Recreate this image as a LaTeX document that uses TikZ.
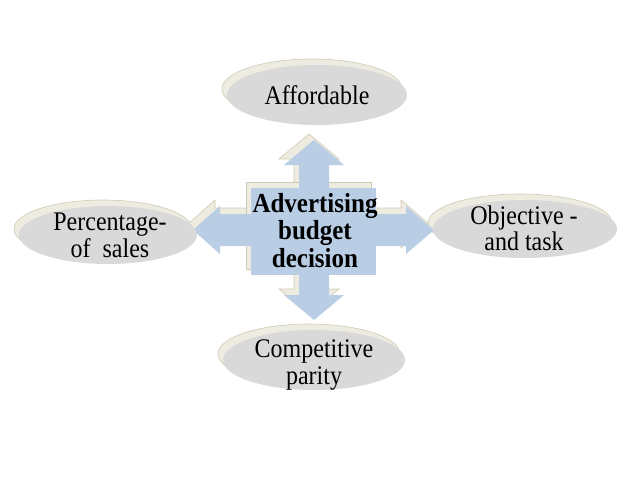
\documentclass[tikz,border=0pt]{standalone}
\usepackage{fontspec}
\setmainfont{Liberation Serif}
\usetikzlibrary{shapes.geometric}
\definecolor{bubble}{HTML}{D9D9D9}
\definecolor{arrowblue}{HTML}{B9CDE5}
\definecolor{cream}{HTML}{EEECE1}
\definecolor{creamedge}{HTML}{CFCAB4}
\tikzset{
  shade/.style={fill=cream, draw=creamedge, line width=0.6pt},
  blueshape/.style={fill=arrowblue, draw=none},
  label/.style={inner sep=0pt},
}
\newcommand{\tallbox}[2]{\scalebox{1}[1.12]{\fontsize{24}{#1}\selectfont\begin{tabular}{@{}c@{}}#2\end{tabular}}}
\newcommand{\quadarrow}{(0,-90) -- (30,-65) -- (15,-65) -- (15,-16) -- (92,-16) -- (92,-24) -- (120,0) -- (92,24) -- (92,16) -- (15,16) -- (15,65) -- (30,65) -- (0,90) -- (-30,65) -- (-15,65) -- (-15,16) -- (-94,16) -- (-94,24) -- (-121,0) -- (-94,-24) -- (-94,-16) -- (-15,-16) -- (-15,-65) -- (-30,-65) -- cycle}
\begin{document}
\begin{tikzpicture}[x=1pt,y=-1pt]
\useasboundingbox[fill=white] (0,0) rectangle (638,479);
% ellipse shadows
\foreach \cx/\cy/\rx/\ry in {317/95/90/30, 108/235/89/29, 525/229/92/29, 314/360/91/30}{
  \fill[shade] (\cx-5,\cy-6) ellipse [x radius=\rx, y radius=\ry];
}
% central quad arrow shadow
\begin{scope}[shift={(309,224)}]
  \filldraw[shade] \quadarrow;
  \filldraw[shade] (-63,-42) rectangle (62,45);
\end{scope}
% central quad arrow
\begin{scope}[shift={(314,230)}]
  \fill[blueshape] \quadarrow;
  \fill[blueshape] (-63,-42) rectangle (62,45);
\end{scope}
\node[label] (center) at (315,234) {\scalebox{1}[1.1]{\bfseries\fontsize{25}{25}\selectfont\begin{tabular}{@{}c@{}}Advertising\\budget\\decision\end{tabular}}};
% ellipses
\fill[bubble] (317,95) ellipse [x radius=90, y radius=30];
\fill[bubble] (108,235) ellipse [x radius=89, y radius=29];
\fill[bubble] (525,229) ellipse [x radius=92, y radius=29];
\fill[bubble] (314,360) ellipse [x radius=91, y radius=30];
\node[label] (afford) at (317,99) {\tallbox{24}{Affordable}};
\node[label] (pct) at (110,239) {\tallbox{23}{Percentage-\\of\ \ sales}};
\node[label] (obj) at (524,232) {\tallbox{23}{Objective -\\and task}};
\node[label] (comp) at (314,366) {\tallbox{24}{Competitive\\parity}};
\end{tikzpicture}
\end{document}
